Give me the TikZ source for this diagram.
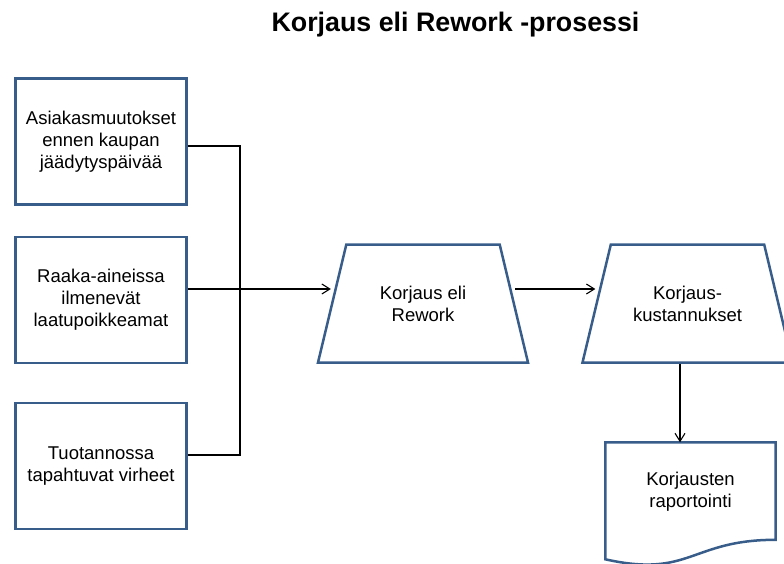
\documentclass[tikz,border=0pt]{standalone}
\usepackage{fontspec}
\setmainfont{Liberation Sans}
\usetikzlibrary{arrows.meta, positioning, shapes.geometric, calc}
\definecolor{colBorder}{RGB}{56,93,138}

\begin{document}
\begin{tikzpicture}[
  x=1pt, y=-1pt,
  src/.style={rectangle, draw=colBorder, line width=2.5pt, fill=white,
              minimum width=171pt, minimum height=126pt,
              font=\fontsize{18.5}{22}\selectfont, align=center},
  proc/.style={trapezium, trapezium angle=76, trapezium stretches body,
               draw=colBorder, line width=2.5pt, fill=white,
               inner ysep=39pt, minimum width=210pt, minimum height=118pt,
               font=\fontsize{18.5}{22}\selectfont, align=center},
  repbox/.style={rectangle, minimum width=170pt, minimum height=99pt,
                 font=\fontsize{18.5}{22}\selectfont, align=center},
  conn/.style={line width=1.1pt, black},
  arr/.style={conn, -{Straight Barb[length=8pt, width=10pt]}},
]
\useasboundingbox (0,0) rectangle (784,564);

\node[anchor=base, font=\bfseries\fontsize{26.8}{32}\selectfont] (title) at (455.5,31.7) {Korjaus eli Rework -prosessi};

% lähteet
\node[src] (cust) at (101,141.5) {Asiakasmuutokset\\ennen kaupan\\jäädytyspäivää};
\node[src] (raw) at (101,300) {Raaka-aineissa\\ilmenevät\\laatupoikkeamat};
\node[src] (prod) at (101,466) {Tuotannossa\\tapahtuvat virheet};
\coordinate (join) at (240,289);

% prosessi
\node[proc] (rework) at (423,303.5) {Korjaus eli\\Rework};
\node[proc] (cost) at (687.5,303.5) {Korjaus-\\kustannukset};
\node[repbox] (report) at (690.5,492) {Korjausten\\raportointi};
\draw[colBorder, line width=2.5pt] (report.north west) -- (report.north east)
  -- ([yshift=-97.5pt]report.north east)
  .. controls ([yshift=-97.5pt]report.north) and ([yshift=-136pt]report.north)
  .. ([yshift=-117pt]report.north west) -- cycle;

\draw[conn] ([yshift=-4.5pt]cust.east) -| (join);
\draw[conn] ([yshift=11pt]prod.east) -| (join);
\draw[arr] ([yshift=11pt]raw.east) -- (rework.west |- join);
\draw[arr] (rework.east |- join) -- (cost.west |- join);
\draw[arr] ([xshift=-7.5pt]cost.south) -- ([xshift=-7.5pt]cost.south |- report.north);
\end{tikzpicture}
\end{document}
